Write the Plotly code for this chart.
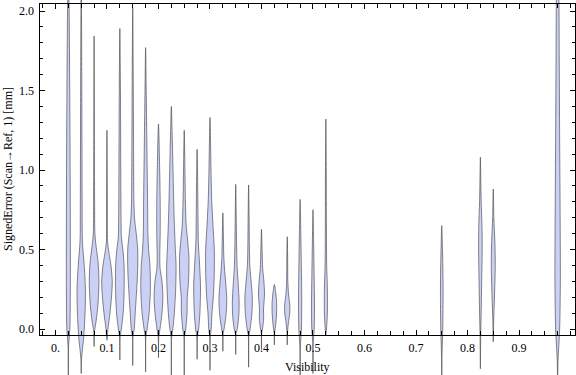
import plotly.graph_objects as go

# ---------------- data ----------------
VIS = [0.025, 0.05, 0.075, 0.1, 0.125, 0.15, 0.175, 0.2, 0.225, 0.25, 0.275, 0.3,
       0.325, 0.35, 0.375, 0.4, 0.425, 0.45, 0.475, 0.5, 0.525, 0.75, 0.825, 0.85, 0.975]

# density profile of each violin: error levels (mm) and relative density at those levels
PROF_Y = [
    [-0.35, -0.1, 0.0, 0.3, 1.0, 1.6, 2.0, 2.3],
    [-0.28, -0.19, -0.05, 0.1, 0.25, 0.4, 0.55, 0.8, 1.5, 2.3],
    [-0.11, -0.02, 0.05, 0.15, 0.3, 0.42, 0.52, 0.6, 0.8, 1.843],
    [-0.07, 0.0, 0.1, 0.2, 0.3, 0.4, 0.47, 0.5, 0.55, 0.8, 1.25],
    [-0.195, -0.05, 0.0, 0.1, 0.25, 0.4, 0.5, 0.58, 0.7, 1.0, 1.5, 1.89],
    [-0.23, -0.05, 0.0, 0.1, 0.2, 0.35, 0.5, 0.6, 0.7, 0.8, 1.2, 1.6, 2.02],
    [-0.27, -0.05, 0.0, 0.1, 0.25, 0.4, 0.5, 0.6, 0.8, 1.0, 1.2, 1.5, 1.77],
    [-0.18, -0.05, 0.0, 0.1, 0.2, 0.3, 0.38, 0.45, 0.6, 0.8, 1.0, 1.29],
    [-0.29, -0.05, 0.0, 0.1, 0.25, 0.4, 0.5, 0.7, 0.9, 1.1, 1.25, 1.40],
    [-0.29, -0.05, 0.0, 0.1, 0.2, 0.3, 0.45, 0.55, 0.65, 0.8, 1.0, 1.25],
    [-0.19, -0.05, 0.0, 0.1, 0.27, 0.4, 0.55, 0.7, 0.9, 1.13],
    [-0.26, -0.05, 0.0, 0.1, 0.2, 0.35, 0.5, 0.65, 0.8, 1.0, 1.2, 1.33],
    [-0.14, -0.03, 0.0, 0.08, 0.18, 0.28, 0.35, 0.45, 0.6, 0.73],
    [-0.16, -0.03, 0.0, 0.08, 0.17, 0.28, 0.4, 0.55, 0.7, 0.91],
    [-0.24, -0.04, 0.0, 0.1, 0.2, 0.3, 0.4, 0.55, 0.7, 0.906],
    [-0.13, -0.02, 0.0, 0.07, 0.12, 0.22, 0.3, 0.38, 0.5, 0.627],
    [-0.10, -0.02, 0.02, 0.1, 0.16, 0.22, 0.28],
    [-0.10, -0.02, 0.04, 0.1, 0.15, 0.22, 0.3, 0.45, 0.58],
    [-0.35, -0.1, 0.0, 0.2, 0.4, 0.6, 0.815],
    [-0.28, -0.08, 0.0, 0.15, 0.35, 0.55, 0.75],
    [-0.035, 0.0, 0.1, 0.25, 0.4, 0.7, 1.0, 1.32],
    [-0.3, -0.15, 0.0, 0.2, 0.35, 0.5, 0.65],
    [-0.25, -0.05, 0.1, 0.3, 0.5, 0.65, 0.8, 0.95, 1.08],
    [-0.08, 0.05, 0.2, 0.4, 0.55, 0.7, 0.88],
    [-0.4, -0.2, 0.0, 0.3, 0.7, 1.2, 1.7, 2.1, 2.3],
]
PROF_D = [
    [0, 0.3, 1.5, 2, 1.8, 1.3, 0.8, 0],
    [0, 0.3, 2.5, 3.8, 4.2, 3, 1.2, 0.9, 0.6, 0],
    [0, 0.3, 2, 3.8, 4.8, 4, 2, 0.8, 0.5, 0],
    [0, 1, 3, 4.5, 5.3, 4, 2.2, 1.5, 0.6, 0.4, 0],
    [0, 0.3, 1.5, 3.3, 4.3, 4.2, 3, 1.5, 1.2, 0.9, 0.6, 0],
    [0, 0.3, 1.5, 2.5, 3.5, 4.8, 5, 3.5, 1.8, 1.2, 0.8, 0.5, 0],
    [0, 0.3, 1.5, 3.5, 4.8, 4.3, 3, 2.3, 2, 1.6, 1.2, 0.6, 0],
    [0, 0.3, 1.5, 3.5, 4.4, 3.5, 1.6, 1.3, 1.7, 1.7, 1.2, 0],
    [0, 0.3, 1.5, 3, 4.3, 4.7, 4, 2.8, 2, 1.3, 0.7, 0],
    [0, 0.3, 1.5, 2.8, 3, 4.3, 4.7, 3.5, 2, 1.2, 0.7, 0],
    [0, 0.3, 1.5, 2.8, 3.4, 2.5, 1.2, 0.9, 0.6, 0],
    [0, 0.3, 1.2, 2, 3.3, 4.3, 4.3, 3, 1.8, 1.0, 0.5, 0],
    [0, 0.3, 1.2, 3, 3.9, 3, 2, 1, 0.5, 0],
    [0, 0.3, 1.5, 3, 3.4, 2.5, 1.3, 0.8, 0.5, 0],
    [0, 0.3, 1.5, 3.3, 3.7, 2.5, 1.2, 0.7, 0.5, 0],
    [0, 0.3, 1, 2.2, 2, 3, 2.4, 1.2, 0.6, 0],
    [0, 0.3, 1.2, 2.2, 2.3, 1.5, 0],
    [0, 0.3, 1.2, 2.5, 2.6, 1.3, 0.6, 0.4, 0],
    [0, 0.3, 1.3, 1.6, 1.2, 0.7, 0],
    [0, 0.3, 1.2, 1.5, 1.1, 0.6, 0],
    [0, 0.6, 1.5, 1.5, 0.8, 0.5, 0.4, 0],
    [0, 0.3, 1.0, 1.3, 1.2, 0.7, 0],
    [0, 0.3, 0.8, 1.3, 1.8, 1.6, 0.8, 0.4, 0],
    [0, 0.4, 1.2, 2, 1.6, 0.6, 0],
    [0, 0.4, 2, 2.7, 2.5, 2, 1.6, 1.2, 0],
]

X_TICKS = [0.0, 0.1, 0.2, 0.3, 0.4, 0.5, 0.6, 0.7, 0.8, 0.9]
X_LABELS = ["0.", "0.1", "0.2", "0.3", "0.4", "0.5", "0.6", "0.7", "0.8", "0.9"]
Y_TICKS = [0.0, 0.5, 1.0, 1.5, 2.0]
Y_LABELS = ["0.0", "0.5", "1.0", "1.5", "2.0"]

# ---------------- layout geometry ----------------
W, H = 576, 375
FL, FR, FT, FB = 39.5, 575.0, 4.0, 335.0      # frame box in pixels
XR = [-0.031, 1.0087]
YR = [-0.0377, 2.044]
ux = (XR[1] - XR[0]) / (FR - FL)
uy = (YR[1] - YR[0]) / (FB - FT)
XFULL = [XR[0] - FL * ux, XR[1] + (W - FR) * ux]
YFULL = [YR[0] - (H - FB) * uy, YR[1] + FT * uy]
WSCALE = ux  # one density unit = one pixel half-width

FONT = "Liberation Serif, Times New Roman, serif"
FILL = "rgb(203,209,246)"
EDGE = "rgba(70,70,70,0.72)"

fig = go.Figure()
for xv, ys, ds in zip(VIS, PROF_Y, PROF_D):
    right_x = [xv + d * WSCALE for d in ds]
    left_x = [xv - d * WSCALE for d in ds[::-1]]
    fig.add_trace(go.Scatter(
        x=right_x + left_x[1:], y=ys + ys[::-1][1:],
        mode="lines", fill="toself", fillcolor=FILL,
        line=dict(color=EDGE, width=0.9, shape="spline", smoothing=0.8),
        xaxis="x", yaxis="y", showlegend=False, hoverinfo="skip"))

# empty trace so the framed subplot exists
fig.add_trace(go.Scatter(x=[], y=[], xaxis="x2", yaxis="y2", showlegend=False))

axis_common = dict(showline=True, linecolor="black", linewidth=1, mirror="ticks",
                   ticks="inside", tickcolor="black", tickwidth=1, showgrid=False,
                   zeroline=False, tickfont=dict(family=FONT, size=12, color="black"))

fig.update_layout(
    width=W, height=H, margin=dict(l=0, r=0, t=0, b=0),
    paper_bgcolor="white", plot_bgcolor="rgba(0,0,0,0)",
    xaxis=dict(domain=[0, 1], range=XFULL, visible=False, anchor="y", fixedrange=True),
    yaxis=dict(domain=[0, 1], range=YFULL, visible=False, anchor="x", fixedrange=True),
    xaxis2=dict(domain=[FL / W, FR / W], range=XR, anchor="y2",
                tickmode="array", tickvals=X_TICKS, ticktext=X_LABELS, ticklen=5,
                minor=dict(tick0=0, dtick=0.025, ticks="inside", ticklen=4,
                           tickcolor="black", tickwidth=1),
                ticklabelstandoff=2, **axis_common),
    yaxis2=dict(domain=[(H - FB) / H, (H - FT) / H], range=YR, anchor="x2",
                tickmode="array", tickvals=Y_TICKS, ticktext=Y_LABELS, ticklen=5,
                minor=dict(tick0=0, dtick=0.1, ticks="inside", ticklen=3,
                           tickcolor="black", tickwidth=1),
                ticklabelstandoff=2, **axis_common),
    annotations=[
        dict(text="Visibility", xref="paper", yref="paper",
             x=(FL + FR) / 2 / W, y=(H - 366.5) / H, xanchor="center", yanchor="middle",
             showarrow=False, font=dict(family=FONT, size=12, color="black")),
        dict(text="SignedError (Scan→Ref, 1) [mm]", xref="paper", yref="paper",
             x=8.5 / W, y=(H - (FT + FB) / 2) / H, xanchor="center", yanchor="middle",
             textangle=-90, showarrow=False, font=dict(family=FONT, size=12, color="black")),
    ],
)

fig.write_html("out.html", config={"displayModeBar": False, "staticPlot": True},
               post_script="document.body.style.margin='0px';document.body.style.overflow='hidden';")
